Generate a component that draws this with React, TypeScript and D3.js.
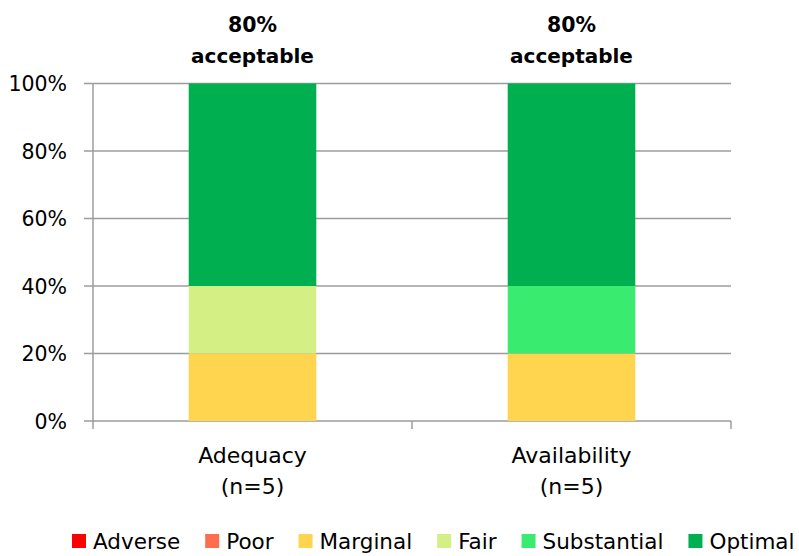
import React, { useEffect, useRef } from "react";
import * as d3 from "d3";

const categories = ["Adequacy", "Availability"];
const categorySub = ["(n=5)", "(n=5)"];
const seriesNames = ["Adverse", "Poor", "Marginal", "Fair", "Substantial", "Optimal"];
const seriesColors = ["#FF0000", "#FF6D4F", "#FFD44F", "#D4F084", "#39EB6F", "#00B050"];
// values per series, one entry per category (fractions)
const adverse = [0, 0];
const poor = [0, 0];
const marginal = [0.2, 0.2];
const fair = [0.2, 0];
const substantial = [0, 0.2];
const optimal = [0.6, 0.6];
const topLabelsLine1 = ["80%", "80%"];
const topLabelsLine2 = ["acceptable", "acceptable"];
const yTicks = [0, 0.2, 0.4, 0.6, 0.8, 1.0];

const W = 799;
const H = 556;

export default function App() {
  const ref = useRef<SVGSVGElement>(null);

  useEffect(() => {
    const svg = d3.select(ref.current);
    svg.selectAll("*").remove();

    const left = 93, right = 731, top = 83.5, bottom = 421;
    const y = d3.scaleLinear().domain([0, 1]).range([bottom, top]);
    const x = d3.scaleBand<string>().domain(categories).range([left, right]).paddingInner(0.6).paddingOuter(0.3);

    const grid = "#9C9C9C";
    const font = "'DejaVu Sans', sans-serif";

    // gridlines
    svg.append("g").selectAll("line").data(yTicks).join("line")
      .attr("x1", left - 9).attr("x2", right)
      .attr("y1", d => y(d)).attr("y2", d => y(d))
      .attr("stroke", grid).attr("stroke-width", 1.5);

    // y axis line
    svg.append("line").attr("x1", left).attr("x2", left).attr("y1", top).attr("y2", bottom + 8)
      .attr("stroke", grid).attr("stroke-width", 1.5);

    // x category boundary ticks
    const bounds = d3.range(categories.length + 1).map(i => left + i * (right - left) / categories.length);
    svg.append("g").selectAll("line").data(bounds.slice(1)).join("line")
      .attr("x1", d => d).attr("x2", d => d).attr("y1", bottom).attr("y2", bottom + 8)
      .attr("stroke", grid).attr("stroke-width", 1.5);

    // y tick labels
    svg.append("g").selectAll("text").data(yTicks).join("text")
      .attr("x", 67).attr("y", d => y(d) + 7.5)
      .attr("text-anchor", "end")
      .attr("font-family", font).attr("font-size", 20.5).attr("fill", "#000")
      .text(d => d3.format(".0%")(d));

    // stacked bars
    const seriesVals = [adverse, poor, marginal, fair, substantial, optimal];
    const rows = categories.map((c, i) => {
      const r: any = { cat: c };
      seriesNames.forEach((s, j) => (r[s] = seriesVals[j][i]));
      return r;
    });
    const stack = d3.stack<any>().keys(seriesNames);
    const stacked = stack(rows);
    stacked.forEach((layer, j) => {
      svg.append("g").attr("fill", seriesColors[j]).selectAll("rect")
        .data(layer.filter(d => d[1] - d[0] > 0)).join("rect")
        .attr("x", d => x(d.data.cat)!)
        .attr("width", x.bandwidth())
        .attr("y", d => y(d[1]))
        .attr("height", d => y(d[0]) - y(d[1]));
    });

    // top labels
    categories.forEach((c, i) => {
      const cx = x(c)! + x.bandwidth() / 2;
      svg.append("text").attr("x", cx).attr("y", 32).attr("text-anchor", "middle")
        .attr("font-family", font).attr("font-weight", "bold").attr("font-size", 20.5)
        .text(topLabelsLine1[i]);
      svg.append("text").attr("x", cx).attr("y", 63).attr("text-anchor", "middle")
        .attr("font-family", font).attr("font-weight", "bold").attr("font-size", 20)
        .text(topLabelsLine2[i]);
      // category labels
      svg.append("text").attr("x", cx).attr("y", 463).attr("text-anchor", "middle")
        .attr("font-family", font).attr("font-size", 22).text(c);
      svg.append("text").attr("x", cx).attr("y", 494).attr("text-anchor", "middle")
        .attr("font-family", font).attr("font-size", 22).text(categorySub[i]);
    });

    // legend
    const lg = svg.append("g");
    let cur = 72;
    seriesNames.forEach((s, j) => {
      lg.append("rect").attr("x", cur).attr("y", 534).attr("width", 14).attr("height", 14)
        .attr("fill", seriesColors[j]);
      const t = lg.append("text").attr("x", cur + 21).attr("y", 548.5)
        .attr("font-family", font).attr("font-size", 21.5).attr("fill", "#000").text(s);
      const w = (t.node() as SVGTextElement).getComputedTextLength();
      cur += 21 + w + 25;
    });
  }, []);

  return (
    <svg ref={ref} width={W} height={H} style={{ position: "absolute", left: 0, top: 0, background: "#fff" }} />
  );
}
